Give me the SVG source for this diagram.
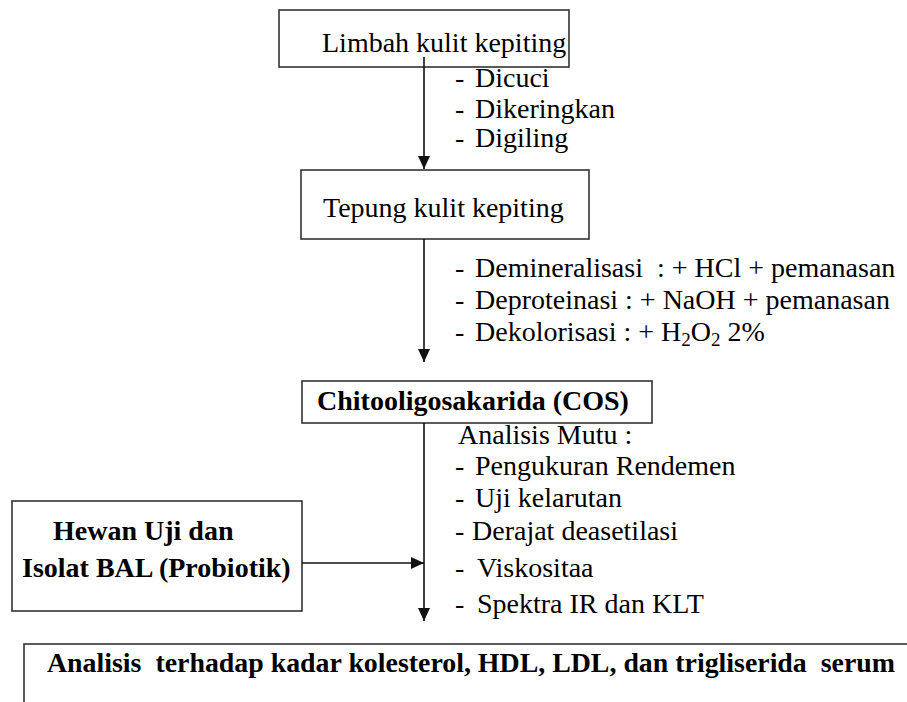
<svg xmlns="http://www.w3.org/2000/svg" width="907" height="702" viewBox="0 0 907 702">
<style>
.box{fill:#fff;stroke:#333;stroke-width:1.6}
.t{font-family:'Liberation Serif','Times New Roman',serif;font-size:28px;fill:#000}
.b{font-weight:bold}
.pre{white-space:pre}
.ln{stroke:#111;stroke-width:1.6;fill:none}
</style>
<defs>
<marker id="ah" markerUnits="userSpaceOnUse" markerWidth="13" markerHeight="12" refX="13" refY="6" orient="auto">
<path d="M0,0 L13,6 L0,12 z" fill="#111"/>
</marker>
</defs>
<rect width="907" height="702" fill="#fff"/>
<g id="limbah">
<rect class="box" x="279" y="10" width="290" height="57"/>
<text class="t" x="322" y="52">Limbah kulit kepiting</text>
</g>
<g id="tepung">
<rect class="box" x="301" y="170" width="288" height="69"/>
<text class="t" x="323" y="217">Tepung kulit kepiting</text>
</g>
<g id="cos">
<rect class="box" x="302" y="381" width="350" height="42"/>
<text class="t b" x="317" y="410">Chitooligosakarida (COS)</text>
</g>
<g id="hewan">
<rect class="box" x="12" y="501" width="290" height="110"/>
<text class="t b" x="53" y="540">Hewan Uji dan</text>
<text class="t b" x="22" y="577">Isolat BAL (Probiotik)</text>
</g>
<g id="analisis">
<rect class="box" x="24" y="644" width="900" height="80"/>
<text class="t b pre" x="47" y="672" textLength="848" lengthAdjust="spacingAndGlyphs">Analisis  terhadap kadar kolesterol, HDL, LDL, dan trigliserida  serum</text>
</g>
<g id="connectors">
<line class="ln" x1="424" y1="57" x2="424" y2="169" marker-end="url(#ah)"/>
<line class="ln" x1="424" y1="239" x2="424" y2="362" marker-end="url(#ah)"/>
<line class="ln" x1="424" y1="423" x2="424" y2="621" marker-end="url(#ah)"/>
<line class="ln" x1="302" y1="563" x2="424" y2="563" marker-end="url(#ah)"/>
</g>
<g id="labels">
<text class="t" x="455" y="87">-</text><text class="t" x="475" y="87">Dicuci</text>
<text class="t" x="455" y="118">-</text><text class="t" x="475" y="118">Dikeringkan</text>
<text class="t" x="455" y="147">-</text><text class="t" x="475" y="147">Digiling</text>
<text class="t" x="455" y="277">-</text><text class="t pre" x="475" y="277">Demineralisasi  : + HCl + pemanasan</text>
<text class="t" x="455" y="309">-</text><text class="t" x="475" y="309">Deproteinasi : + NaOH + pemanasan</text>
<text class="t" x="455" y="341">-</text><text class="t" x="475" y="341">Dekolorisasi : + H<tspan font-size="19" dy="5">2</tspan><tspan dy="-5">O</tspan><tspan font-size="19" dy="5">2</tspan><tspan dy="-5"> 2%</tspan></text>
<text class="t" x="458" y="444">Analisis Mutu :</text>
<text class="t" x="455" y="475">-</text><text class="t" x="475" y="475">Pengukuran Rendemen</text>
<text class="t" x="455" y="507">-</text><text class="t" x="475" y="507">Uji kelarutan</text>
<text class="t" x="455" y="540">-</text><text class="t" x="472" y="540">Derajat deasetilasi</text>
<text class="t" x="455" y="577">-</text><text class="t" x="477" y="577">Viskositaa</text>
<text class="t" x="455" y="613">-</text><text class="t" x="477" y="613">Spektra IR dan KLT</text>
</g>
</svg>
